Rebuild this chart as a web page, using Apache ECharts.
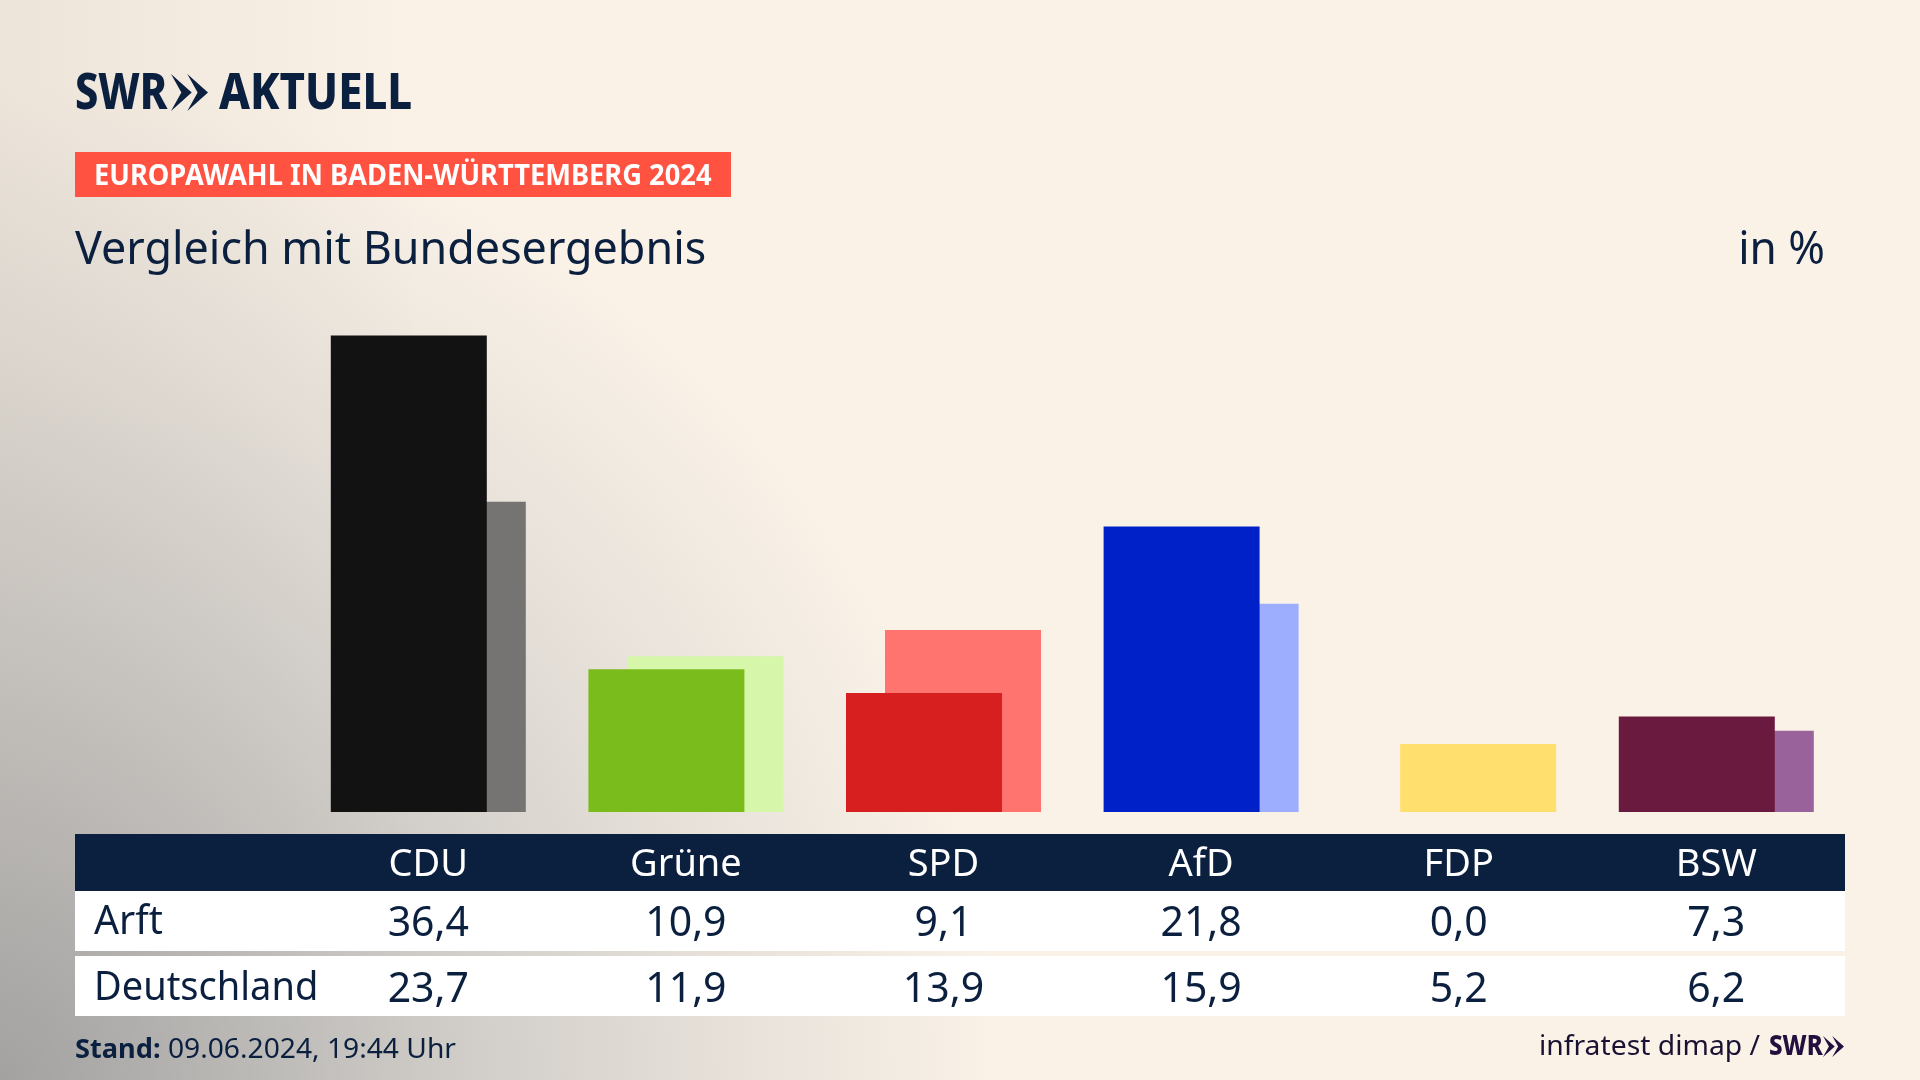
<!DOCTYPE html>
<html lang="de">
<head>
<meta charset="utf-8">
<title>Europawahl in Baden-Württemberg 2024</title>
<script src="https://cdn.jsdelivr.net/npm/echarts@6/dist/echarts.min.js"></script>
<style>
  html,body{margin:0;padding:0;background:#faf2e7}
  #chart{width:1920px;height:1080px}
</style>
</head>
<body>
<div id="chart"></div>
<script>
/* Vergleich Arft / Deutschland */
const FONT = "'Noto Sans', sans-serif";
const NAVY = '#0b1f3f';
const PARTIES = ['CDU','Grüne','SPD','AfD','FDP','BSW'];
const ARFT = [36.4,10.9,9.1,21.8,0.0,7.3];
const DE   = [23.7,11.9,13.9,15.9,5.2,6.2];
const COL_ARFT = ['#121212','#7abc1b','#d81f1f','#0021c8','#ffe06f','#6b1a3f'];
const COL_DE   = ['#757472','#d6f6aa','#ff746e','#9eaeff','#ffe06f','#9a629b'];

const fmt = v => v.toFixed(1).replace('.',',');

/* Text mit horizontaler Stauchung, weil die SWR-Hausschrift schmaler ist */
function txt(x, y, text, size, opt={}){
  return { type:'text', x, y, z:1, scaleX:opt.sx||1, originX:0, originY:0,
    style:{ text, fill:opt.color||NAVY, font:`${opt.weight||400} ${size}px ${FONT}`,
            align:opt.align||'left', verticalAlign:'middle', rich:opt.rich } };
}
function rect(x, y, w, h, fill){
  return { type:'rect', z:0, shape:{x,y,width:w,height:h}, style:{fill} };
}
// Doppelpfeil aus dem SWR-Logo
function chevrons(x, y, w, h, fill){
  const a = w*0.56;
  const one = dx => ({ type:'polygon', z:1, style:{fill},
    shape:{points:[[x+dx,y],[x+dx+a,y+h/2],[x+dx,y+h],[x+dx+a*.5,y+h/2]]} });
  return [one(0), one(w-a)];
}

const graphics = [
  { type:'rect', z:-5, shape:{x:0,y:0,width:1920,height:1080},
    style:{ fill:new echarts.graphic.RadialGradient(0,1080,1000,[
      {offset:0,color:'#a8a8a8'},{offset:.4,color:'#cbc8c4'},{offset:.72,color:'#e6e0d9'},{offset:1,color:'#faf2e7'}],true) } },
  // Randabdunklung links, läuft bis nach oben
  { type:'rect', z:-4, shape:{x:0,y:0,width:420,height:1080},
    style:{ fill:new echarts.graphic.LinearGradient(0,0,1,0,[
      {offset:0,color:'rgba(120,110,100,.10)'},{offset:1,color:'rgba(120,110,100,0)'}]) } },
  // Logo
  txt(75,95,'SWR',50,{weight:800,sx:.83}),
  ...chevrons(171,74,37,37,NAVY),
  txt(219,95,'AKTUELL',50,{weight:800,sx:.875}),
  // Dachzeile + Titel
  rect(75,152,656,45,'#ff5240'),
  txt(94,177,'EUROPAWAHL IN BADEN-WÜRTTEMBERG 2024',28,{weight:700,color:'#fff',sx:.974}),
  txt(75,251,'Vergleich mit Bundesergebnis',46,{sx:.975}),
  txt(1825,251,'in %',46,{align:'right',sx:.96}),
  // Tabelle
  rect(75,834,1770,57,NAVY),
  rect(75,891,1770,60,'#fff'),
  rect(75,956,1770,60,'#fff'),
  txt(94,923,'Arft',40,{sx:.98}),
  txt(94,989,'Deutschland',40,{sx:.95}),
  // Fußzeile
  txt(75,1050,'{b|Stand:} 09.06.2024, 19:44 Uhr',28,{sx:1.007,
    rich:{b:{fontWeight:700,fontSize:27,fontFamily:FONT,fill:NAVY}}}),
  txt(1539,1047,'infratest dimap /',28,{color:'#1a1233',sx:1.01}),
  txt(1769,1047,'SWR',28,{weight:800,color:'#24103f',sx:.86}),
  ...chevrons(1823,1036,21,21,'#24103f')
];

const chart = echarts.init(document.getElementById('chart'), null, {renderer:'canvas'});
chart.setOption({
  animation:false,
  textStyle:{fontFamily:FONT},
  grid:{left:299.5,width:1545.6,top:335.5,height:476.5},
  xAxis:{ type:'category', data:PARTIES, z:5,
    axisLine:{show:false}, axisTick:{show:false}, splitLine:{show:false},
    axisLabel:{ interval:0, margin:25, verticalAlign:'top', lineHeight:56,
      formatter:(v,i)=>`{h|${v}}\n{a|${fmt(ARFT[i])}}\n{b|${fmt(DE[i])}}`,
      rich:{
        h:{color:'#fff',fontSize:38,lineHeight:56,fontFamily:FONT},
        a:{color:NAVY,fontSize:41,lineHeight:62,fontFamily:FONT},
        b:{color:NAVY,fontSize:41,lineHeight:70,fontFamily:FONT}
      } } },
  yAxis:{ type:'value', min:0, max:36.4, show:false, splitLine:{show:false} },
  graphic:graphics,
  series:[
    { name:'Arft', type:'bar', z:4, silent:true, barWidth:156, barGap:'-75%',
      data:ARFT.map((v,i)=>({value:v,itemStyle:{color:COL_ARFT[i]}})) },
    { name:'Deutschland', type:'bar', z:3, silent:true, barWidth:156, barGap:'-75%',
      data:DE.map((v,i)=>({value:v,itemStyle:{color:COL_DE[i]}})) }
  ]
});
</script>
</body>
</html>
